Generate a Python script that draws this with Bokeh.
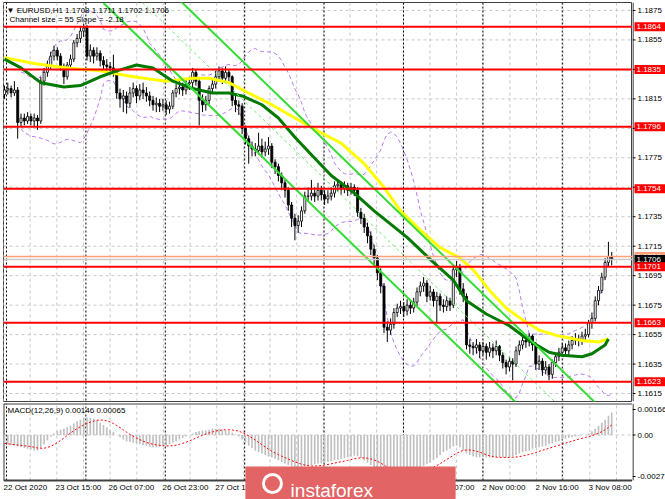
import numpy as np
import pandas as pd
from bokeh.plotting import figure
from bokeh.layouts import column, row
from bokeh.models import Range1d, Span, Label, ColumnDataSource
from bokeh.core.properties import value
from bokeh.embed import file_html
from bokeh.resources import INLINE

# ---------------- data (EURUSD H1) ----------------
FIRST_OPEN = 1.1818
CLOSE = [
    1.1821, 1.1822, 1.1819, 1.1821, 1.1799, 1.1802, 1.1800, 1.1803, 1.1800, 1.1802,
    1.1800, 1.1827, 1.1833, 1.1837, 1.1844, 1.1848, 1.1844, 1.1837, 1.1830, 1.1838,
    1.1842, 1.1853, 1.1856, 1.1861, 1.1863, 1.1844, 1.1848, 1.1844, 1.1846, 1.1841,
    1.1838, 1.1837, 1.1836, 1.1833, 1.1819, 1.1815, 1.1817, 1.1812, 1.1819, 1.1822,
    1.1817, 1.1821, 1.1819, 1.1817, 1.1814, 1.1811, 1.1812, 1.1810, 1.1811, 1.1808,
    1.1810, 1.1819, 1.1822, 1.1823, 1.1821, 1.1825, 1.1826, 1.1833, 1.1827, 1.1814,
    1.1811, 1.1814, 1.1822, 1.1825, 1.1830, 1.1834, 1.1829, 1.1833, 1.1830, 1.1814,
    1.1811, 1.1810, 1.1795, 1.1788, 1.1783, 1.1781, 1.1780, 1.1783, 1.1779, 1.1781,
    1.1783, 1.1772, 1.1769, 1.1763, 1.1758, 1.1753, 1.1743, 1.1734, 1.1729, 1.1732,
    1.1739, 1.1749, 1.1749, 1.1751, 1.1749, 1.1753, 1.1750, 1.1747, 1.1749, 1.1751,
    1.1756, 1.1757, 1.1754, 1.1756, 1.1753, 1.1755, 1.1753, 1.1738, 1.1734, 1.1728,
    1.1722, 1.1713, 1.1707, 1.1697, 1.1688, 1.1660, 1.1658, 1.1662, 1.1670, 1.1673,
    1.1674, 1.1671, 1.1675, 1.1673, 1.1677, 1.1684, 1.1688, 1.1690, 1.1681, 1.1684,
    1.1678, 1.1681, 1.1675, 1.1674, 1.1678, 1.1675, 1.1699, 1.1701, 1.1686, 1.1681,
    1.1648, 1.1647, 1.1646, 1.1648, 1.1644, 1.1647, 1.1643, 1.1646, 1.1644, 1.1647,
    1.1641, 1.1636, 1.1633, 1.1637, 1.1635, 1.1644, 1.1648, 1.1651, 1.1650, 1.1654,
    1.1648, 1.1635, 1.1637, 1.1631, 1.1633, 1.1628, 1.1636, 1.1640, 1.1643, 1.1646,
    1.1644, 1.1648, 1.1651, 1.1652, 1.1651, 1.1654, 1.1655, 1.1663, 1.1666, 1.1678,
    1.1685, 1.1694, 1.1704, 1.1708, 1.1706,
]
HIGH = [
    1.1824, 1.1826, 1.1824, 1.1827, 1.1823, 1.1805, 1.1805, 1.1806, 1.1805, 1.1805,
    1.1804, 1.1830, 1.1836, 1.1841, 1.1847, 1.1851, 1.1850, 1.1846, 1.1839, 1.1840,
    1.1845, 1.1855, 1.1859, 1.1864, 1.1866, 1.1865, 1.1852, 1.1850, 1.1850, 1.1848,
    1.1844, 1.1842, 1.1840, 1.1845, 1.1835, 1.1822, 1.1821, 1.1820, 1.1823, 1.1826,
    1.1824, 1.1825, 1.1826, 1.1823, 1.1820, 1.1817, 1.1816, 1.1815, 1.1815, 1.1814,
    1.1813, 1.1821, 1.1825, 1.1827, 1.1826, 1.1829, 1.1830, 1.1836, 1.1835, 1.1829,
    1.1818, 1.1817, 1.1824, 1.1828, 1.1834, 1.1837, 1.1836, 1.1837, 1.1835, 1.1831,
    1.1817, 1.1814, 1.1812, 1.1797, 1.1790, 1.1786, 1.1785, 1.1792, 1.1788, 1.1786,
    1.1789, 1.1785, 1.1774, 1.1771, 1.1765, 1.1760, 1.1755, 1.1745, 1.1737, 1.1736,
    1.1742, 1.1752, 1.1755, 1.1760, 1.1755, 1.1758, 1.1756, 1.1753, 1.1753, 1.1755,
    1.1759, 1.1760, 1.1759, 1.1759, 1.1758, 1.1758, 1.1757, 1.1755, 1.1741, 1.1737,
    1.1731, 1.1725, 1.1716, 1.1709, 1.1700, 1.1690, 1.1664, 1.1666, 1.1673, 1.1676,
    1.1678, 1.1677, 1.1679, 1.1678, 1.1680, 1.1687, 1.1691, 1.1694, 1.1692, 1.1688,
    1.1686, 1.1684, 1.1683, 1.1679, 1.1681, 1.1680, 1.1701, 1.1705, 1.1703, 1.1690,
    1.1683, 1.1652, 1.1650, 1.1652, 1.1650, 1.1650, 1.1649, 1.1650, 1.1649, 1.1651,
    1.1648, 1.1643, 1.1638, 1.1640, 1.1639, 1.1647, 1.1651, 1.1654, 1.1655, 1.1656,
    1.1655, 1.1650, 1.1641, 1.1639, 1.1637, 1.1635, 1.1638, 1.1643, 1.1646, 1.1649,
    1.1649, 1.1651, 1.1654, 1.1656, 1.1655, 1.1657, 1.1659, 1.1665, 1.1670, 1.1681,
    1.1688, 1.1697, 1.1707, 1.1718, 1.1711,
]
LOW = [
    1.1815, 1.1818, 1.1816, 1.1817, 1.1788, 1.1796, 1.1797, 1.1798, 1.1797, 1.1796,
    1.1794, 1.1798, 1.1824, 1.1830, 1.1835, 1.1841, 1.1841, 1.1834, 1.1825, 1.1828,
    1.1835, 1.1840, 1.1850, 1.1853, 1.1857, 1.1841, 1.1840, 1.1839, 1.1841, 1.1837,
    1.1835, 1.1833, 1.1832, 1.1830, 1.1815, 1.1809, 1.1806, 1.1805, 1.1809, 1.1816,
    1.1812, 1.1814, 1.1815, 1.1813, 1.1810, 1.1807, 1.1806, 1.1806, 1.1807, 1.1804,
    1.1805, 1.1808, 1.1816, 1.1818, 1.1817, 1.1818, 1.1821, 1.1823, 1.1824, 1.1797,
    1.1806, 1.1807, 1.1811, 1.1819, 1.1822, 1.1827, 1.1825, 1.1826, 1.1825, 1.1810,
    1.1806, 1.1804, 1.1791, 1.1784, 1.1771, 1.1776, 1.1776, 1.1777, 1.1775, 1.1776,
    1.1777, 1.1768, 1.1764, 1.1759, 1.1753, 1.1748, 1.1739, 1.1728, 1.1719, 1.1724,
    1.1728, 1.1737, 1.1745, 1.1746, 1.1745, 1.1746, 1.1746, 1.1743, 1.1744, 1.1746,
    1.1748, 1.1752, 1.1750, 1.1751, 1.1749, 1.1750, 1.1749, 1.1735, 1.1730, 1.1724,
    1.1717, 1.1709, 1.1702, 1.1692, 1.1683, 1.1656, 1.1650, 1.1655, 1.1659, 1.1667,
    1.1669, 1.1667, 1.1668, 1.1669, 1.1670, 1.1674, 1.1681, 1.1684, 1.1677, 1.1678,
    1.1674, 1.1663, 1.1671, 1.1670, 1.1671, 1.1671, 1.1673, 1.1694, 1.1682, 1.1677,
    1.1645, 1.1642, 1.1641, 1.1642, 1.1639, 1.1641, 1.1638, 1.1640, 1.1639, 1.1641,
    1.1637, 1.1632, 1.1628, 1.1630, 1.1624, 1.1633, 1.1641, 1.1645, 1.1646, 1.1647,
    1.1644, 1.1631, 1.1631, 1.1627, 1.1628, 1.1624, 1.1625, 1.1633, 1.1637, 1.1640,
    1.1641, 1.1641, 1.1645, 1.1648, 1.1647, 1.1648, 1.1650, 1.1653, 1.1659, 1.1664,
    1.1675, 1.1683, 1.1692, 1.1701, 1.1702,
]

# MACD(12,26,9) main values (histogram), in units of 0.0001
MACD_MAIN_E4 = [
    -5.5, -6, -6.5, -7, -7.5, -8, -8.5, -9, -9.5, -10,
    -10, -8.5, -6, -3.5, -1, 1, 2.5, 3.5, 4, 5,
    6, 7.5, 9, 10, 11, 11.4, 11, 10.5, 9.5, 8,
    6.5, 5, 3.5, 2, 0, -1.5, -3, -4, -4.5, -5,
    -5.5, -6, -6.5, -7, -7.5, -8, -8, -7.5, -7, -6.5,
    -6, -5, -4, -3, -2, -1, 0, 1, 2, 2.5,
    3, 3, 3.5, 4, 4, 4, 3.5, 3, 2.5, 1.5,
    0.5, -1, -3, -5, -7, -8.5, -10, -11, -12, -13,
    -14, -14.6, -15.5, -16.5, -17.5, -18.5, -19.5, -20.5, -21, -21,
    -21, -20.5, -20, -19.5, -19, -18.5, -18.5, -18, -17.5, -17,
    -16.5, -16, -15.5, -15, -14.5, -14, -13.5, -14, -15, -16.5,
    -18, -19.5, -21, -22.5, -24, -25.5, -26.5, -27, -27, -26.5,
    -26, -25.5, -25, -24, -23, -22, -21, -20, -19, -18,
    -16.5, -15, -13, -11, -10, -9, -7.5, -7, -8, -10,
    -12, -13, -14, -14.5, -14.6, -14.6, -14.6, -14.6, -14.6, -14.6,
    -14.6, -14.6, -14.6, -14.5, -14, -13, -12, -11, -10.5, -10,
    -9, -8.5, -8, -7.5, -7, -6, -5.5, -4.5, -4, -3,
    -2.5, -2, -1.5, -1, -0.5, 0, 0, 1, 2.5, 4,
    6, 8, 10, 12.5, 14.6,
]

# moving averages (bar index, price)
MA_YELLOW_I = [0, 9, 19, 29, 39, 49, 57, 62, 68, 74, 81, 88, 95, 102, 109, 115, 120, 126,
               132, 138, 142, 147, 152, 157, 162, 168, 175, 180, 183]
MA_YELLOW = [1.1843, 1.1839, 1.1836, 1.1834, 1.1830, 1.1827, 1.1829, 1.1829, 1.1826, 1.1819,
             1.1811, 1.1802, 1.1793, 1.1785, 1.1771, 1.1755, 1.1739, 1.1726, 1.1714, 1.1707,
             1.1699, 1.1685, 1.1673, 1.1665, 1.1658, 1.1654, 1.1651, 1.1650, 1.1652]
MA_GREEN_I = [0, 5, 11, 18, 23, 29, 34, 40, 45, 51, 57, 63, 68, 72, 78, 83, 88, 93, 99, 106,
              112, 122, 130, 136, 140, 146, 153, 159, 165, 169, 175, 178, 182, 183]
MA_GREEN = [1.1842, 1.1836, 1.1826, 1.1823, 1.1824, 1.1830, 1.1834, 1.1838, 1.1836, 1.1827,
            1.1822, 1.1819, 1.1819, 1.1817, 1.1811, 1.1802, 1.1789, 1.1777, 1.1763, 1.1751,
            1.1739, 1.1721, 1.1704, 1.1692, 1.1678, 1.1669, 1.1661, 1.1651, 1.1643, 1.1641,
            1.1640, 1.1642, 1.1648, 1.1652]

# regression channel (end points of the centre line, half width)
CH_I = [30, 190]
CH_MID = [1.1906, 1.1559]
CH_HALF = 0.0026

LEVELS = [1.1864, 1.1835, 1.1796, 1.1754, 1.1701, 1.1663, 1.1623]
ASK_PRICE = 1.1708
BID_PRICE = 1.1706
PRICE_TICKS = [1.1615, 1.1635, 1.1655, 1.1675, 1.1695, 1.1715, 1.1735, 1.1755,
               1.1775, 1.1795, 1.1815, 1.1835, 1.1855, 1.1875]
MACD_TICKS = [0.00166, 0.0, -0.0027]
MACD_TICK_TEXT = ["0.00166", "0.00", "-0.0027"]
XLAB_START = [-0.3, 15.45, 31.5, 47.9, 63.9, 80.0, 96.1, 112.4, 128.5, 144.8, 160.9, 177.0]
XLAB_TEXT = ["22 Oct 2020", "23 Oct 15:00", "26 Oct 07:00", "26 Oct 23:00", "27 Oct 15:00",
             "28 Oct 07:00", "28 Oct 23:00", "29 Oct 15:00", "30 Oct 07:00", "2 Nov 00:00",
             "2 Nov 16:00", "3 Nov 08:00"]

TITLE = "\u25bc EURUSD,H1  1.1708 1.1711 1.1702 1.1706"
SUBTITLE = "Channel size = 55 Slope = -2.18"
MACD_TITLE = "MACD(12,26,9) 0.00146 0.00065"
WATERMARK = "instaforex"

# ---------------- derived series ----------------
n = len(CLOSE)
idx = np.arange(n)
close = np.array(CLOSE)
opens = np.array([FIRST_OPEN] + CLOSE[:-1])  # open = previous close
bull = close >= opens
src = ColumnDataSource(dict(
    x=idx, h=HIGH, l=LOW,
    top=np.maximum(opens, close), bottom=np.minimum(opens, close),
    fill=np.where(bull, "#FFFFFF", "#000000"),
))

cs = pd.Series(close)
bb_mid = cs.rolling(20, min_periods=6).mean()
bb_sd = cs.rolling(20, min_periods=6).std(ddof=0)
bb_up = (bb_mid + 2 * bb_sd).to_numpy()
bb_dn = (bb_mid - 2 * bb_sd).to_numpy()

macd = np.array(MACD_MAIN_E4) * 1e-4
signal = pd.Series(macd).rolling(9, min_periods=1).mean().to_numpy()   # SMA(9) signal

# ---------------- geometry ----------------
FONT = value("Liberation Sans")
FW, AXW = 629, 33
PH, MH, XH = 399, 77, 19
X0, X1 = -0.303, 190.3
Y0, Y1 = 1.16096, 1.18804
M0, M1 = -0.00296, 0.00205
MPX = MH / (M1 - M0)          # macd pixels per unit
MB = M0 - XH / MPX            # bottom of the time-axis strip (in macd units)
GRID = "#C8C8C8"
GRID_POS = [-0.3 + 8.076 * k for k in range(24)]
DAY_POS = [0.6 + 24.06 * m for m in range(8)]

def base(fw, fh, xr, yr, top=0, bottom=0, left=0):
    f = figure(frame_width=fw, frame_height=fh, x_range=xr, y_range=yr,
               x_axis_location=None, y_axis_location=None,
               output_backend="svg", toolbar_location=None,
               min_border_left=left, min_border_right=0,
               min_border_top=top, min_border_bottom=bottom)
    f.grid.visible = False
    f.background_fill_color = "white"
    f.border_fill_color = "white"
    f.outline_line_color = None
    return f

# ---------------- price panel ----------------
p = base(FW, PH, Range1d(X0, X1), Range1d(Y0, Y1), top=2, bottom=1, left=3)
p.outline_line_color = "#404040"
for t in PRICE_TICKS:
    p.add_layout(Span(location=t, dimension="width", line_color=GRID, line_dash="3 3",
                      line_width=1, level="underlay"))
for g in GRID_POS:
    p.add_layout(Span(location=g, dimension="height", line_color=GRID, line_dash="3 3",
                      line_width=1, level="underlay"))
for d in DAY_POS:
    p.add_layout(Span(location=d, dimension="height", line_color="#000000", line_dash="2 2",
                      line_width=1, level="underlay"))

p.line(idx, bb_up, line_color="#B878EC", line_dash="4 3", line_width=1)
p.line(idx, bb_dn, line_color="#B878EC", line_dash="4 3", line_width=1)

p.segment(x0="x", y0="l", x1="x", y1="h", source=src, line_color="black", line_width=1)
p.vbar(x="x", width=0.62, top="top", bottom="bottom", source=src,
       fill_color="fill", line_color="black", line_width=0.8)

p.line(MA_YELLOW_I, MA_YELLOW, line_color="#FFFF00", line_width=3, line_join="round")
p.line(MA_GREEN_I, MA_GREEN, line_color="#007A00", line_width=3, line_join="round")

ch_mid = np.array(CH_MID)
p.line(CH_I, ch_mid + CH_HALF, line_color="#33DD33", line_width=2)
p.line(CH_I, ch_mid - CH_HALF, line_color="#33DD33", line_width=2)
p.line(CH_I, ch_mid, line_color="#66EE66", line_width=1, line_dash="3 3")

p.add_layout(Span(location=ASK_PRICE, dimension="width", line_color="#FFA07A", line_width=1.5))
p.add_layout(Span(location=BID_PRICE, dimension="width", line_color="#C8C8C8", line_width=1.5))
for lv in LEVELS:
    p.add_layout(Span(location=lv, dimension="width", line_color="#FF0000", line_width=2))

p.add_layout(Label(x=X0, y=Y1, x_offset=3, y_offset=-8, text=TITLE, text_baseline="middle",
                   text_font="Liberation Sans", text_font_size="8px", text_color="black"))
p.add_layout(Label(x=X0, y=Y1, x_offset=6, y_offset=-17, text=SUBTITLE, text_baseline="middle",
                   text_font="Liberation Sans", text_font_size="8px", text_color="black"))

# price axis (right)
pa = base(AXW, PH, Range1d(0, AXW), p.y_range, top=2, bottom=1)
pa.segment(x0=0.5, y0=Y0, x1=0.5, y1=Y1, line_color="black", line_width=1)
pa.segment(x0=0, y0=PRICE_TICKS, x1=3, y1=PRICE_TICKS, line_color="black", line_width=1)
pa.text(x=5, y=PRICE_TICKS, text=[f"{t:.4f}" for t in PRICE_TICKS], text_baseline="middle",
        text_align="left", text_font=FONT, text_font_size="8px", text_color="black")

def axis_box(y, text, color):
    pa.rect(x=17.5, y=y, width=31, height=9, height_units="screen",
            fill_color=color, line_color=None)
    pa.text(x=4, y=y, text=[text], text_baseline="middle", text_align="left",
            text_font=FONT, text_font_size="8px", text_color="white")

axis_box(ASK_PRICE, f"{ASK_PRICE:.4f}", "#FFA07A")
axis_box(BID_PRICE, f"{BID_PRICE:.4f}", "#000000")
for lv in LEVELS:
    axis_box(lv, f"{lv:.4f}", "#FF0000")

# ---------------- MACD panel + time axis (one frame) ----------------
q = base(FW, MH + XH, p.x_range, Range1d(MB, M1), top=1, left=3)
q.segment(x0=GRID_POS, y0=M0, x1=GRID_POS, y1=M1, line_color=GRID, line_dash="3 3", line_width=1)
q.segment(x0=DAY_POS, y0=M0, x1=DAY_POS, y1=M1, line_color="#000000", line_dash="2 2", line_width=1)
q.segment(x0=X0, y0=0, x1=X1, y1=0, line_color=GRID, line_dash="3 3", line_width=1)
# panel border
q.segment(x0=[X0, X0, X0], y0=[M0, M1, M0], x1=[X1, X1, X0], y1=[M0, M1, M1],
          line_color="#404040", line_width=2)

q.vbar(x=idx, width=0.5, top=macd, bottom=0, fill_color="#C0C0C0", line_color=None)
q.line(idx, signal, line_color="#FF0000", line_dash="2 2", line_width=1)
q.add_layout(Label(x=X0, y=M1, x_offset=4, y_offset=-7, text=MACD_TITLE, text_baseline="middle",
                   text_font="Liberation Sans", text_font_size="8px", text_color="black"))

# time labels
q.text(x=XLAB_START, y=[M0 - 7 / MPX] * len(XLAB_START), text=XLAB_TEXT, text_baseline="middle",
       text_align="left", text_font=FONT, text_font_size="8px", text_color="black")

# watermark
WM_L, WM_R, WM_TEXT_X, WM_LOGO_X = 73.0, 136.7, 86.7, 81.2
q.quad(left=WM_L, right=WM_R, bottom=MB - 1, top=M0 + 14 / MPX,
       fill_color="#E26464", line_color=None)
q.text(x=WM_TEXT_X, y=M0 + 1 / MPX, text=[WATERMARK], text_baseline="top",
       text_align="left", text_font=FONT, text_font_size="19px", text_color="white")
q.scatter(x=WM_LOGO_X, y=M0 - 3 / MPX, size=18, marker="circle", fill_color=None,
          line_color="white", line_width=3)

qa = base(AXW, MH + XH, Range1d(0, AXW), q.y_range, top=1)
qa.segment(x0=0.5, y0=M0, x1=0.5, y1=M1, line_color="black", line_width=1)
qa.segment(x0=0, y0=MACD_TICKS, x1=3, y1=MACD_TICKS, line_color="black", line_width=1)
qa.text(x=5, y=MACD_TICKS, text=MACD_TICK_TEXT, text_baseline="middle", text_align="left",
        text_font=FONT, text_font_size="8px", text_color="black")

layout = column(row(p, pa, spacing=0), row(q, qa, spacing=0), spacing=0)
open("out.html", "w").write(file_html(layout, INLINE))
